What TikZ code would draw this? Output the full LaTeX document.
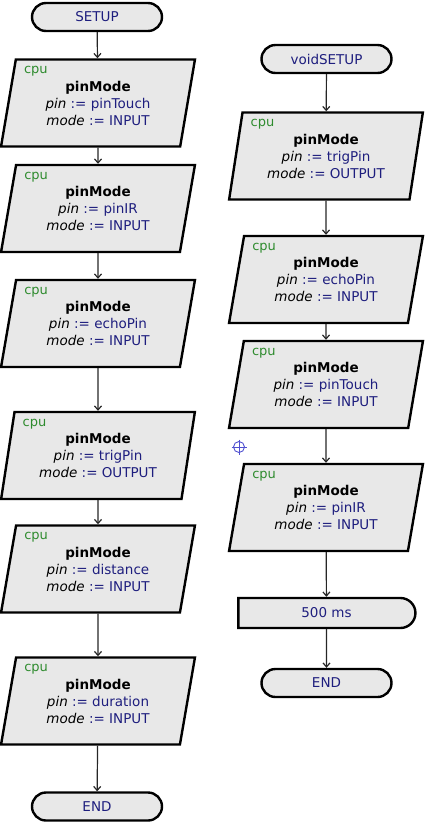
\documentclass[tikz,border=0pt]{standalone}
\usepackage{fontspec}
\setmainfont{DejaVu Sans}
\usetikzlibrary{shapes.geometric,shapes.misc,arrows.meta}
\definecolor{navy}{HTML}{1E1E7E}
\definecolor{cpugreen}{HTML}{2E8B2E}
\definecolor{boxfill}{HTML}{E8E8E8}
\definecolor{markblue}{HTML}{5050D0}
\newcommand{\pmbody}[2]{{\bfseries\color{black}pinMode}\\{\itshape\color{black}pin} := #1\\{\itshape\color{black}mode} := #2}
\tikzset{
  base/.style={draw=black, line width=2.4pt, fill=boxfill, text=navy, font=\fontsize{13.5}{17}\selectfont, inner sep=0pt},
  term/.style={base, rounded rectangle, minimum width=130pt, minimum height=28pt},
  para/.style={base, trapezium, trapezium stretches=true, trapezium left angle=78, trapezium right angle=102, minimum width=194pt, minimum height=87pt, align=center},
  delaybox/.style={base, rounded rectangle, rounded rectangle left arc=none, minimum width=177pt, minimum height=30pt},
  cpulbl/.style={text=cpugreen, font=\fontsize{13}{15}\selectfont, inner sep=0pt, anchor=north west, xshift=9pt, yshift=-8pt},
  flow/.style={draw=black!85, line width=1.2pt, -{Straight Barb[length=4pt,width=7pt]}}
}
\begin{document}
\begin{tikzpicture}[x=1pt,y=-1pt]
\useasboundingbox (0,0) rectangle (425,823);
% left column
\node[term] (s1) at (97,17) {SETUP};
\node[para] (l1) at (98,103) {\pmbody{pinTouch}{INPUT}};
\node[para] (l2) at (98,208.5) {\pmbody{pinIR}{INPUT}};
\node[para] (l3) at (98,323.5) {\pmbody{echoPin}{INPUT}};
\node[para] (l4) at (98,455.5) {\pmbody{trigPin}{OUTPUT}};
\node[para] (l5) at (98,569) {\pmbody{distance}{INPUT}};
\node[para] (l6) at (98,701) {\pmbody{duration}{INPUT}};
\node[term] (e1) at (97,806.5) {END};
\foreach \p in {l1,l2,l3,l4,l5,l6} \node[cpulbl] at (\p.top left corner) {cpu};
\draw[flow] (s1) -- (l1);
\draw[flow] (l1) -- (l2);
\draw[flow] (l2) -- (l3);
\draw[flow] (l3) -- (l4);
\draw[flow] (l4) -- (l5);
\draw[flow] (l5) -- (l6);
\draw[flow] (l6) -- (e1);
% right column
\node[term] (s2) at (326.5,59) {voidSETUP};
\node[para] (r1) at (326,156) {\pmbody{trigPin}{OUTPUT}};
\node[para] (r2) at (326,279.5) {\pmbody{echoPin}{INPUT}};
\node[para] (r3) at (326,384.5) {\pmbody{pinTouch}{INPUT}};
\node[para] (r4) at (326,507.5) {\pmbody{pinIR}{INPUT}};
\node[delaybox] (d1) at (326.5,613) {500 ms};
\node[term] (e2) at (326.5,683) {END};
\foreach \p in {r1,r2,r3,r4} \node[cpulbl] at (\p.top left corner) {cpu};
\draw[flow] (s2) -- (r1);
\draw[flow] (r1) -- (r2);
\draw[flow] (r2) -- (r3);
\draw[flow] (r3) -- (r4);
\draw[flow] (r4) -- (d1);
\draw[flow] (d1) -- (e2);
% breakpoint marker
\draw[markblue, line width=0.9pt] (239,447) circle (5.5pt);
\draw[markblue, line width=0.9pt] (231.5,447) -- (246.5,447) (239,439.5) -- (239,454.5);
\end{tikzpicture}
\end{document}
